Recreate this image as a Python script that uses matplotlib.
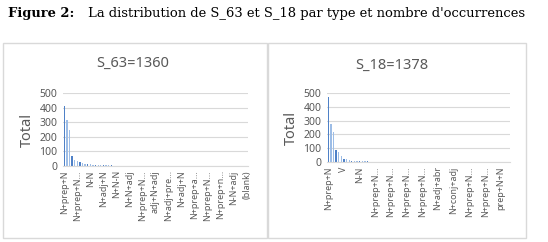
import numpy as np
import matplotlib.pyplot as plt
from matplotlib.patches import Rectangle

# S_63 : counts per type (sorted), 71 categories
s63_values = [410, 315, 245, 70, 42, 37, 30, 21, 16, 14, 12, 9, 7, 6, 5,
              5, 4, 4, 4, 3, 3, 3, 3, 3, 3, 3, 3, 2, 2, 2,
              2, 2, 2, 2, 2, 2, 2, 2, 2, 2, 2, 2, 2, 2, 2,
              2, 2, 2, 2, 2, 2, 2, 2, 2, 2, 2, 2, 1, 1, 1,
              1, 1, 1, 1, 1, 1, 1, 1, 1, 1, 1]
s63_ticklabels = ['N+prep+N', 'N+prep+N…', 'N-N', 'N+adj+N', 'N+N-N',
                  'N+N+adj', 'N+prep+N…', 'adj+N+adj', 'N+adj+pre…',
                  'N+adj+N', 'N+prep+a…', 'N+prep+N…', 'N+prep+n…',
                  'N-N+adj', '(blank)']
s63_step = 5

# S_18 : counts per type (sorted), 70 categories
s18_values = [470, 275, 215, 85, 70, 40, 25, 20, 15, 10, 10, 8, 8, 8, 8,
              8, 3, 3, 3, 3, 2, 2, 2, 2, 2, 2, 2, 2, 2, 2,
              2, 2, 2, 2, 2, 2, 2, 2, 2, 2, 2, 2, 2, 2, 2,
              2, 1, 1, 1, 1, 1, 1, 1, 1, 1, 1, 1, 1, 1, 1,
              1, 1, 1, 1, 1, 1, 1, 1, 1, 1]
s18_ticklabels = ['N+prep+N', 'V', 'N-N', 'N+prep+N…', 'N+prep+N…',
                  'N+prep+N…', 'N+prep+N…', 'N+adj+abr', 'N+conj+adj',
                  'N+prep+N…', 'N+prep+N…', 'prep+N+N']
s18_step = 6

W, H = 548, 242
GRID = '#d9d9d9'
TXT = '#595959'


def px(x, y, w, h):
    # pixel box (top-left origin) -> figure fraction
    return [x / W, 1 - (y + h) / H, w / W, h / H]


def panel(fig, box, title, values, labels, step, title_xy):
    ax = fig.add_axes(px(*box))
    x = np.arange(len(values))
    cols = ['#4f81c7' if i % 3 == 0 else '#9dbde6' for i in x]
    ax.bar(x, values, width=0.5, color=cols)
    ax.set_xlim(-0.5, len(values) - 0.5)
    ax.set_ylim(0, 500)
    ax.set_yticks(range(0, 501, 100))
    ax.yaxis.grid(True, color=GRID, lw=0.8)
    ax.set_axisbelow(True)
    ax.set_xticks(x[::step])
    ax.set_xticklabels(labels, rotation=90, fontsize=6.4, color=TXT)
    ax.tick_params(axis='y', labelsize=7.5, colors=TXT, length=0, pad=4)
    ax.tick_params(axis='x', length=0, pad=3)
    for s in ['top', 'right', 'left']:
        ax.spines[s].set_visible(False)
    ax.spines['bottom'].set_color(GRID)
    ax.set_ylabel('Total', fontsize=10.5, color=TXT, labelpad=3)
    fig.text(title_xy[0] / W, 1 - title_xy[1] / H, title, fontsize=10.5,
             color=TXT, ha='center', va='center')
    return ax


def main():
    plt.rcParams['font.family'] = ['Noto Sans', 'DejaVu Sans']
    fig = plt.figure(figsize=(W / 100, H / 100), dpi=100)

    for (x0, y0, w, h) in [(3, 43, 264, 195), (268, 43, 258, 195)]:
        fig.patches.append(Rectangle((x0 / W, 1 - (y0 + h) / H), w / W, h / H,
                                     transform=fig.transFigure, fill=False,
                                     ec=GRID, lw=1))

    fig.text(8 / W, 1 - 14 / H, 'Figure 2:', family='DejaVu Serif',
             fontweight='bold', fontsize=9.4, va='center')
    fig.text(88 / W, 1 - 14 / H,
             "La distribution de S_63 et S_18 par type et nombre d'occurrences",
             family='DejaVu Serif', fontsize=9.45, va='center')

    panel(fig, (63, 93, 185, 73), 'S_63=1360', s63_values, s63_ticklabels,
          s63_step, (133, 63))
    panel(fig, (327, 93, 183, 69), 'S_18=1378', s18_values, s18_ticklabels,
          s18_step, (392, 65))

    fig.savefig('out.png', dpi=100)


if __name__ == "__main__":
    main()
